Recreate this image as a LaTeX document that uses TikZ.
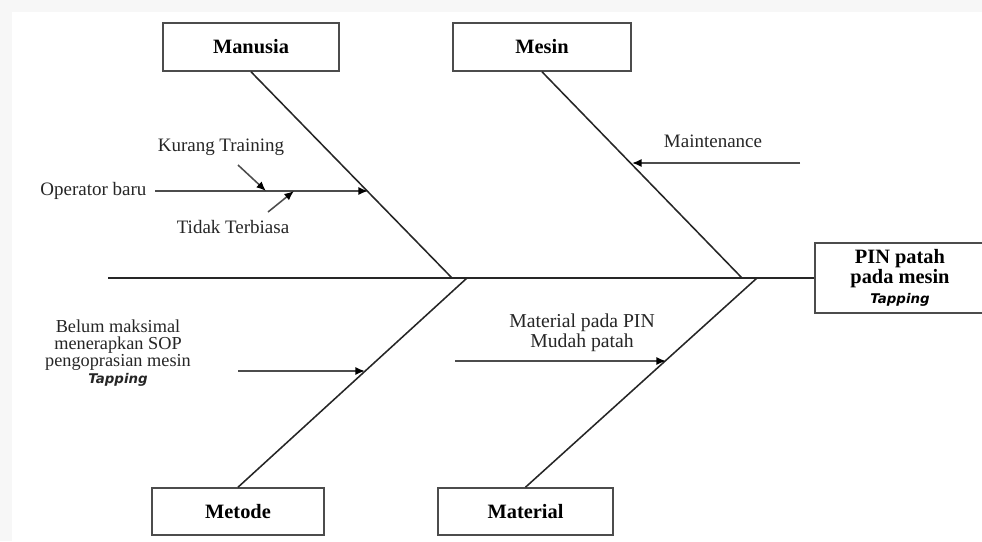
\documentclass[tikz,border=0pt]{standalone}
\usepackage{fontspec}
\setmainfont{Liberation Serif}
\newfontfamily\tapfont{DejaVu Sans}
\usetikzlibrary{arrows.meta,positioning}
\tikzset{
  cat/.style={draw=black!70,line width=1.1pt,fill=white,minimum width=4.4cm,
    minimum height=1.2cm,inner sep=0pt,font=\fontsize{14.5}{16}\selectfont\bfseries},
  bone/.style={line width=1.1pt,black!85},
  sub/.style={line width=1.1pt,black!70,-{Latex[length=2.4mm,width=2mm,black]}},
  lbl/.style={font=\fontsize{13.5}{15}\selectfont,inner sep=1pt,black!85},
  frame/.style={fill=gray!6},
}
\newcommand{\tapword}{{\tapfont\bfseries\itshape\fontsize{9.5}{11}\selectfont Tapping}}

\begin{document}
\begin{tikzpicture}[x=0.025cm,y=-0.025cm]
    \useasboundingbox (0,0) rectangle (982,541);
    \fill[frame] (0,0) rectangle (982,541);
    \fill[white] (12,12) rectangle (982,541);
    % ---- head and the four categories ----
    \node[cat,minimum width=4.25cm,minimum height=1.75cm,align=center,
      font=\fontsize{14.5}{14.2}\selectfont\bfseries] (pin) at (900,278)
      {PIN patah\\pada mesin\\\tapword};
    \node[cat] (manusia) at (251,47) {Manusia};
    \node[cat,minimum width=4.45cm] (mesin) at (542,47) {Mesin};
    \node[cat,minimum width=4.3cm,minimum height=1.175cm] (metode) at (238,511.5) {Metode};
    \node[cat,minimum width=4.375cm,minimum height=1.175cm] (material) at (525.5,511.5) {Material};
    % ---- spine and bones ----
    \coordinate (tail) at (108,278);
    \coordinate (j1) at (452,278);
    \coordinate (j2) at (742,278);
    \coordinate (j3) at (467,278);
    \coordinate (j4) at (757,278);
    \draw[bone] (tail) -- (pin.west);
    \draw[bone] (manusia.south) -- (j1);
    \draw[bone] (mesin.south) -- (j2);
    \draw[bone] (metode.north) -- (j3);
    \draw[bone] (material.north) -- (j4);
    % ---- Manusia ----
    \node[lbl,anchor=east] (operator) at (148,191) {Operator baru};
    \coordinate (operatorS) at (155,191);
    \coordinate (operatorE) at (368,191);
    \draw[sub] (operatorS) -- (operatorE);
    \node[lbl] (kurang) at (221,147) {Kurang Training};
    \coordinate (kurangS) at (238,165);
    \coordinate (kurangE) at (266,191);
    \draw[sub] (kurangS) -- (kurangE);
    \node[lbl] (tidak) at (233,227) {Tidak Terbiasa};
    \coordinate (tidakS) at (268,212);
    \coordinate (tidakE) at (294,191);
    \draw[sub] (tidakS) -- (tidakE);
    % ---- Mesin ----
    \node[lbl] (maint) at (713,141) {Maintenance};
    \coordinate (maintS) at (800,163);
    \coordinate (maintE) at (632,163);
    \draw[sub] (maintS) -- (maintE);
    % ---- Metode ----
    \node[lbl,align=center,font=\fontsize{13}{12}\selectfont] (sop) at (118,353)
      {Belum maksimal\\menerapkan SOP\\pengoprasian mesin\\\tapword};
    \coordinate (sopS) at (238,371);
    \coordinate (sopE) at (365,371);
    \draw[sub] (sopS) -- (sopE);
    % ---- Material ----
    \node[lbl,align=center,font=\fontsize{14}{14.2}\selectfont] (mudah) at (582,333)
      {Material pada PIN\\Mudah patah};
    \coordinate (mudahS) at (455,361);
    \coordinate (mudahE) at (666,361);
    \draw[sub] (mudahS) -- (mudahE);
\end{tikzpicture}
\end{document}
